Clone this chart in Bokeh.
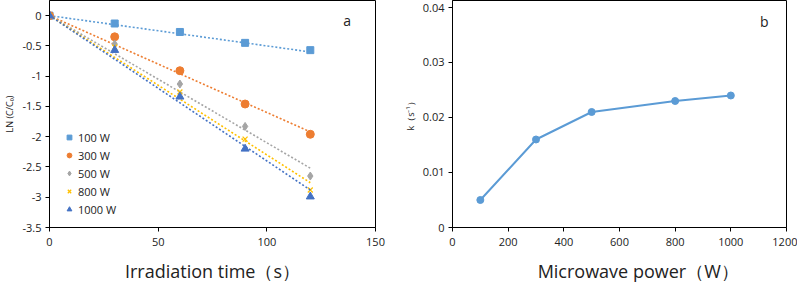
from bokeh.plotting import figure
from bokeh.layouts import row
from bokeh.models import FixedTicker, Range1d, Legend, LegendItem, Label
from bokeh.embed import file_html
from bokeh.resources import INLINE

# ---- data ----
times = [0, 30, 60, 90, 120]
series_labels = ["100 W", "300 W", "500 W", "800 W", "1000 W"]
ln_100 = [0, -0.13, -0.27, -0.45, -0.57]
ln_300 = [0, -0.35, -0.91, -1.46, -1.96]
ln_500 = [0, -0.47, -1.13, -1.83, -2.65]
ln_800 = [0, -0.52, -1.26, -2.04, -2.88]
ln_1000 = [0, -0.57, -1.34, -2.20, -2.99]
power = [100, 300, 500, 800, 1000]
k_rate = [0.005, 0.016, 0.021, 0.023, 0.024]
x_ticks_a = [0, 50, 100, 150]
y_ticks_a = [0, -0.5, -1, -1.5, -2, -2.5, -3, -3.5]
x_ticks_b = [0, 200, 400, 600, 800, 1000, 1200]
y_ticks_b = [0, 0.01, 0.02, 0.03, 0.04]

FONT = "Open Sans"
colors = ["#5B9BD5", "#ED7D31", "#A5A5A5", "#FFC000", "#4472C4"]
markers = ["square", "circle", "diamond", "x", "triangle"]
sizes = [7, 8, 8, 7, 8]
series = [ln_100, ln_300, ln_500, ln_800, ln_1000]


def style_axes(p, xt, yt):
    for ax in (p.xaxis[0], p.yaxis[0]):
        ax.major_label_text_font = FONT
        ax.major_label_text_font_size = "11px"
        ax.major_label_text_color = "#222222"
        ax.axis_line_color = "#000000"
        ax.major_tick_line_color = "#000000"
        ax.major_tick_out = 4
        ax.major_tick_in = 0
        ax.minor_tick_line_color = None
        ax.axis_label_text_font = FONT
        ax.axis_label_text_font_style = "normal"
        ax.axis_label_text_color = "#222222"
    p.yaxis.major_label_standoff = 4
    p.xaxis.major_label_standoff = 6
    p.xaxis.axis_label_text_font_size = "18px"
    p.xaxis.axis_label_standoff = 10
    p.xaxis.ticker = FixedTicker(ticks=xt)
    p.yaxis.ticker = FixedTicker(ticks=yt)
    p.xgrid.grid_line_color = None
    p.ygrid.grid_line_color = None
    p.outline_line_color = "#000000"
    p.outline_line_width = 1


# ---- chart a ----
p1 = figure(width=400, height=285, output_backend="svg", toolbar_location=None,
            x_range=Range1d(0, 150), y_range=Range1d(-3.5, 0.25),
            min_border_left=47, min_border_right=25, min_border_top=0, min_border_bottom=57)
style_axes(p1, x_ticks_a, y_ticks_a)
p1.xaxis.major_label_overrides = {t: str(t) for t in x_ticks_a}
p1.yaxis.major_label_overrides = {t: ("0" if t == 0 else ("%g" % t)) for t in y_ticks_a}
p1.xaxis.axis_label = "Irradiation time（s）"
p1.yaxis.axis_label = "LN (C/C₀)"
p1.yaxis.axis_label_text_font_size = "9px"
p1.yaxis.axis_label_standoff = 3

items = []
for lab, ys, c, m, s, kk in zip(series_labels, series, colors, markers, sizes, k_rate):
    p1.line([times[0], times[-1]], [-kk * times[0], -kk * times[-1]],
            line_color=c, line_width=1.6, line_dash="2 2")
    r = p1.scatter(times, ys, marker=m, size=s, fill_color=c, line_color=c,
                   line_width=1.3 if m == "x" else 1)
    items.append(LegendItem(label=lab, renderers=[r]))

legend = Legend(items=items, location=(14, 9), spacing=0, label_height=18,
                glyph_height=18, glyph_width=12, label_standoff=3, padding=2, margin=0,
                background_fill_alpha=0, border_line_color=None,
                label_text_font=FONT, label_text_font_size="11px", label_text_color="#222222")
p1.add_layout(legend)
p1.add_layout(Label(x=137, y=-0.08, text="a", text_font=FONT, text_font_size="14px",
                    text_color="#222222", text_align="center", text_baseline="middle"))

# ---- chart b ----
p2 = figure(width=397, height=285, output_backend="svg", toolbar_location=None,
            x_range=Range1d(0, 1200), y_range=Range1d(0, 0.04127),
            min_border_left=51, min_border_right=11, min_border_top=0, min_border_bottom=58)
style_axes(p2, x_ticks_b, y_ticks_b)
p2.xaxis.major_label_overrides = {t: str(t) for t in x_ticks_b}
p2.yaxis.major_label_overrides = {t: ("0" if t == 0 else "%g" % t) for t in y_ticks_b}
p2.xaxis.axis_label = "\u00a0" * 8 + "Microwave power（W）"
p2.yaxis.axis_label = "k（s⁻¹）"
p2.yaxis.axis_label_text_font_size = "9px"
p2.yaxis.axis_label_standoff = 3
p2.line(power, k_rate, line_color="#5B9BD5", line_width=2)
p2.scatter(power, k_rate, marker="circle", size=7, fill_color="#5B9BD5", line_color="#5B9BD5")
p2.add_layout(Label(x=1120, y=0.0374, text="b", text_font=FONT, text_font_size="14px",
                    text_color="#222222", text_align="center", text_baseline="middle"))

layout = row(p1, p2)
open("out.html", "w").write(file_html(layout, INLINE))
